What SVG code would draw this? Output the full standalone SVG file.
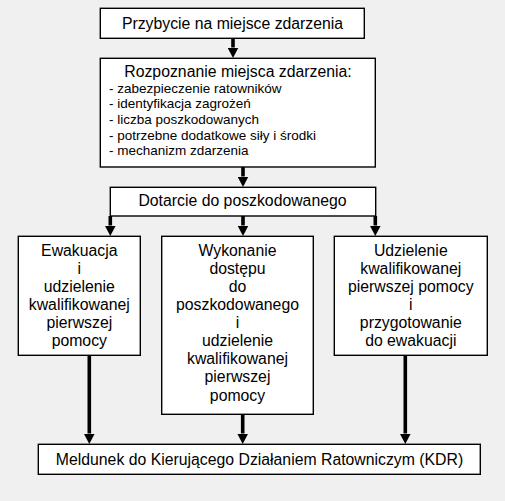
<svg xmlns="http://www.w3.org/2000/svg" width="505" height="501" viewBox="0 0 505 501">
<style>
.box{fill:#fff;stroke:#000;stroke-width:1.4}
.t{font-family:"Liberation Sans",Arial,sans-serif;font-size:15.8px;fill:#000;text-anchor:middle}
.b{font-family:"Liberation Sans",Arial,sans-serif;font-size:13.5px;fill:#000}
.c{stroke:#000;stroke-width:3.6;fill:none}
</style>
<defs>
<marker id="ah" markerUnits="userSpaceOnUse" markerWidth="11" markerHeight="11" refX="0" refY="5.5" orient="auto">
<path d="M0,0 L10.5,5.5 L0,11 z" fill="#000"/>
</marker>
</defs>
<rect width="505" height="501" fill="#f0f0f0"/>
<g id="connectors">
<line class="c" x1="233" y1="38.3" x2="233" y2="47.5" marker-end="url(#ah)"/>
<line class="c" x1="243" y1="167" x2="243" y2="176.5" marker-end="url(#ah)"/>
<line class="c" x1="110.3" y1="216" x2="110.3" y2="225.5" marker-end="url(#ah)"/>
<line class="c" x1="243" y1="216" x2="243" y2="225.5" marker-end="url(#ah)"/>
<line class="c" x1="375.3" y1="216" x2="375.3" y2="225.5" marker-end="url(#ah)"/>
<line class="c" x1="89.3" y1="355" x2="89.3" y2="433.5" marker-end="url(#ah)"/>
<line class="c" x1="242.7" y1="414" x2="242.7" y2="433.5" marker-end="url(#ah)"/>
<line class="c" x1="405.3" y1="355" x2="405.3" y2="433.5" marker-end="url(#ah)"/>
</g>
<g id="n1">
<rect class="box" x="100.3" y="8.3" width="264" height="30"/>
<text class="t" x="232.5" y="29">Przybycie na miejsce zdarzenia</text>
</g>
<g id="n2">
<rect class="box" x="100.3" y="58.3" width="275" height="108.7"/>
<text class="t" x="238" y="77">Rozpoznanie miejsca zdarzenia:</text>
<text class="b" x="109" y="92.7">- zabezpieczenie ratowników</text>
<text class="b" x="109" y="108.3">- identyfikacja zagrożeń</text>
<text class="b" x="109" y="124">- liczba poszkodowanych</text>
<text class="b" x="109" y="139.5">- potrzebne dodatkowe siły i środki</text>
<text class="b" x="109" y="155">- mechanizm zdarzenia</text>
</g>
<g id="n3">
<rect class="box" x="110.3" y="187.3" width="265.4" height="28.7"/>
<text class="t" x="242.5" y="206">Dotarcie do poszkodowanego</text>
</g>
<g id="n4">
<rect class="box" x="18.3" y="236.3" width="122" height="119"/>
<text class="t" x="79.3" y="255.7">Ewakuacja</text>
<text class="t" x="79.3" y="273.8">i</text>
<text class="t" x="79.3" y="291.9">udzielenie</text>
<text class="t" x="79.3" y="310">kwalifikowanej</text>
<text class="t" x="79.3" y="328.1">pierwszej</text>
<text class="t" x="79.3" y="346.2">pomocy</text>
</g>
<g id="n5">
<rect class="box" x="161.7" y="236.3" width="151.6" height="178"/>
<text class="t" x="237.5" y="255.7">Wykonanie</text>
<text class="t" x="237.5" y="273.8">dostępu</text>
<text class="t" x="237.5" y="291.9">do</text>
<text class="t" x="237.5" y="310">poszkodowanego</text>
<text class="t" x="237.5" y="328.1">i</text>
<text class="t" x="237.5" y="346.2">udzielenie</text>
<text class="t" x="237.5" y="364.3">kwalifikowanej</text>
<text class="t" x="237.5" y="382.4">pierwszej</text>
<text class="t" x="237.5" y="400.5">pomocy</text>
</g>
<g id="n6">
<rect class="box" x="334.3" y="236.3" width="153" height="119"/>
<text class="t" x="410.8" y="255.7">Udzielenie</text>
<text class="t" x="410.8" y="273.8">kwalifikowanej</text>
<text class="t" x="410.8" y="291.9">pierwszej pomocy</text>
<text class="t" x="410.8" y="310">i</text>
<text class="t" x="410.8" y="328.1">przygotowanie</text>
<text class="t" x="410.8" y="346.2">do ewakuacji</text>
</g>
<g id="n7">
<rect class="box" x="38.3" y="444.3" width="442" height="30"/>
<text class="t" x="259.5" y="464.5">Meldunek do Kierującego Działaniem Ratowniczym (KDR)</text>
</g>
</svg>
